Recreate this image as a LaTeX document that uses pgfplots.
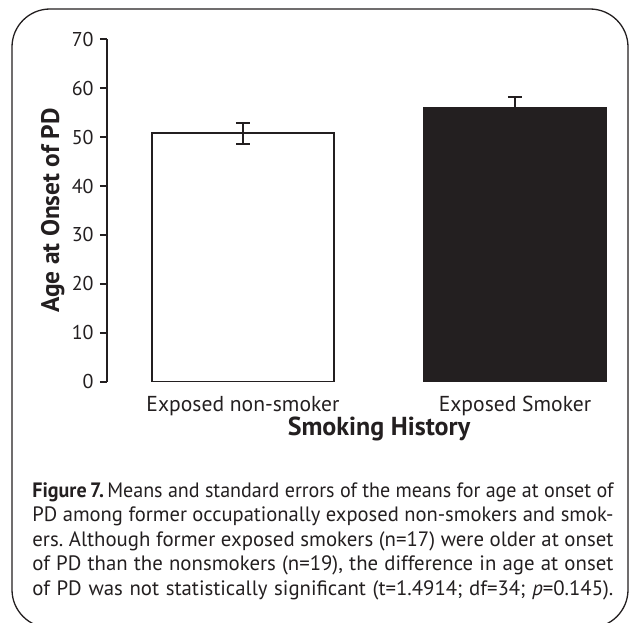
\documentclass[border=0pt]{standalone}
\usepackage{fontspec}
\setmainfont{PT Sans}
\usepackage{graphicx}
\usepackage{pgfplots}
\pgfplotsset{compat=1.18}

\definecolor{ink}{HTML}{231F20}

% one caption line, squeezed or spread to the full measure
\newsavebox\linebox
\newlength\capw
\setlength\capw{290.5pt}
\newcommand\fitline[1]{\sbox\linebox{#1}%
  \ifdim\wd\linebox>\capw\resizebox{\capw}{\ht\linebox}{\usebox\linebox}%
  \else\makebox[\capw][s]{#1}\fi}

\begin{document}
\frenchspacing
\begin{tikzpicture}
\begin{axis}[
  scale only axis, width=272pt, height=171.2pt,
  xmin=-0.5, xmax=1.5, ymin=0, ymax=70,
  axis lines=left, axis line style={-, line width=1pt, ink},
  x axis line style={draw=none},
  xtick={0,1}, xticklabels={Exposed non-smoker, Exposed Smoker},
  xtick style={draw=none},
  ytick={0,10,...,70},
  tick align=outside, major tick length=3.5pt,
  ytick style={line width=1pt, ink},
  /pgf/number format/assume math mode=true,
  yticklabel style={font=\fontsize{10}{12}\selectfont, text=ink, anchor=east, inner sep=0pt, xshift=-3pt},
  xticklabel style={font=\fontsize{10.8}{12}\selectfont, text=ink, anchor=base, inner sep=0pt, yshift=-11.4pt},
  every axis y label/.style={at={(axis description cs:-0.088,0.5)}, rotate=90, anchor=base},
  every axis x label/.style={at={(axis description cs:0.5,0)}, anchor=base, yshift=-27pt},
  ylabel={\fontsize{12.7}{14}\selectfont\bfseries Age at Onset of PD},
  xlabel={\fontsize{13}{15}\selectfont\bfseries Smoking History},
  label style={text=ink},
]
\addplot[ybar, bar width=0.67, bar shift=0pt, draw=ink, fill=white, line width=1pt,
  error bars/.cd, y dir=both, y explicit,
  error bar style={line width=1pt, ink},
  error mark options={rotate=90, mark size=3.5pt, line width=1pt, ink}]
  coordinates {(0,50.8) +- (0,2.15)};
\addplot[ybar, bar width=0.67, bar shift=0pt, draw=ink, fill=ink, line width=1pt,
  error bars/.cd, y dir=both, y explicit,
  error bar style={line width=1pt, ink},
  error mark options={rotate=90, mark size=3.5pt, line width=1pt, ink}]
  coordinates {(1,55.9) +- (0,2.3)};
\end{axis}

% rounded frame and caption
\draw[ink, line width=0.65pt, rounded corners=19pt] (-47.5pt,-123pt) rectangle (260.5pt,186.35pt);
\node[anchor=base west, inner sep=0pt, text=ink] at (-37.5pt,-57.65pt) {%
  \begin{minipage}[t]{\capw}\fontsize{10.4}{12.25}\selectfont\noindent
  \fitline{\textbf{Figure\,7.}\,Means and standard errors of the means for age at onset of}\\
  \fitline{PD among former occupationally exposed non-smokers and smok-}\\
  \fitline{ers. Although former exposed smokers (n=17) were older at onset}\\
  \fitline{of PD than the nonsmokers (n=19), the difference in age at onset}\\
  \fitline{of PD was not statistically significant (t=1.4914; df=34; \textit{p}=0.145).}
  \end{minipage}};

\pgfresetboundingbox
\useasboundingbox (-53.5pt,-120.15pt) rectangle (262.5pt,190.85pt);
\end{tikzpicture}
\end{document}
